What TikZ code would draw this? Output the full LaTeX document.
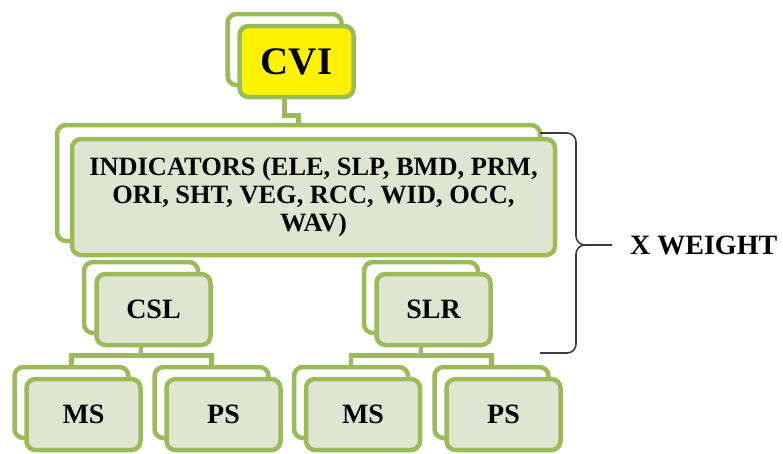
\documentclass[tikz,border=0pt]{standalone}
\usepackage{fontspec}
\setmainfont{Liberation Serif}[BoldFont={Liberation Serif Bold}]
\usetikzlibrary{positioning}

\definecolor{leaf}{RGB}{155,187,89}
\definecolor{leaffill}{RGB}{222,230,210}
\definecolor{bracegray}{RGB}{60,60,60}

\begin{document}
\begin{tikzpicture}[
    x=1pt, y=-1pt,
    backcard/.style={rectangle, draw=leaf, line width=4.5pt, fill=white, rounded corners=9pt, minimum width=114pt, minimum height=71pt},
    card/.style={backcard, fill=leaffill, font=\fontsize{28}{30}\selectfont\bfseries},
    link/.style={draw=leaf, line width=4.5pt},
    brace/.style={draw=bracegray, line width=1.6pt, rounded corners=9pt}
]
    \useasboundingbox (0,0) rectangle (783,453);

    % top box
    \node[backcard] (cviback) at (284.5,49.5) {};
    \node[card, fill=yellow, font=\fontsize{39}{41}\selectfont\bfseries] (cvi) at ([shift={(12,12)}]cviback.center) {CVI};

    % indicators
    \node[backcard, minimum width=483pt, minimum height=116pt] (indback) at (298.5,183) {};
    \node[card, minimum width=483pt, minimum height=116pt, align=center, font=\fontsize{26.4}{28}\selectfont\bfseries] (ind) at ([shift={(15,14)}]indback.center)
        {INDICATORS (ELE, SLP, BMD, PRM,\\ORI, SHT, VEG, RCC, WID, OCC,\\WAV)};

    % second level
    \node[backcard] (cslback) at (141,297.5) {};
    \node[card] (csl) at ([shift={(12.5,12)}]cslback.center) {CSL};
    \node[backcard] (slrback) at (421,297.5) {};
    \node[card] (slr) at ([shift={(12.5,12)}]slrback.center) {SLR};

    % third level
    \node[backcard] (msaback) at (71.5,402.5) {};
    \node[backcard] (psaback) at (211.5,402.5) {};
    \node[backcard] (msbback) at (351,402.5) {};
    \node[backcard] (psbback) at (491.5,402.5) {};

    \draw[link] (cviback.south |- cvi.south) -- ++(0,16) -| (indback.north);
    \draw[link] (cslback.south |- csl.south) -- ++(0,8) -| (msaback.north);
    \draw[link] (cslback.south |- csl.south) -- ++(0,8) -| (psaback.north);
    \draw[link] (slrback.south |- slr.south) -- ++(0,8) -| (msbback.north);
    \draw[link] (slrback.south |- slr.south) -- ++(0,8) -| (psbback.north);

    \node[card] (msa) at ([shift={(12,12)}]msaback.center) {MS};
    \node[card] (psa) at ([shift={(12,12)}]psaback.center) {PS};
    \node[card] (msb) at ([shift={(12,12)}]msbback.center) {MS};
    \node[card] (psb) at ([shift={(12,12)}]psbback.center) {PS};

    % weight brace
    \coordinate (bracetop) at (540,133);
    \coordinate (bracebot) at (540,353);
    \coordinate (bracetip) at (612,245);
    \draw[brace] (bracetop) -| ([xshift=-36pt]bracetip) -- (bracetip);
    \draw[brace] (bracebot) -| ([xshift=-36pt]bracetip) -- (bracetip);
    \node[right=18pt of bracetip, inner sep=0pt, font=\fontsize{28}{30}\selectfont\bfseries] (weight) {X WEIGHT};
\end{tikzpicture}
\end{document}
